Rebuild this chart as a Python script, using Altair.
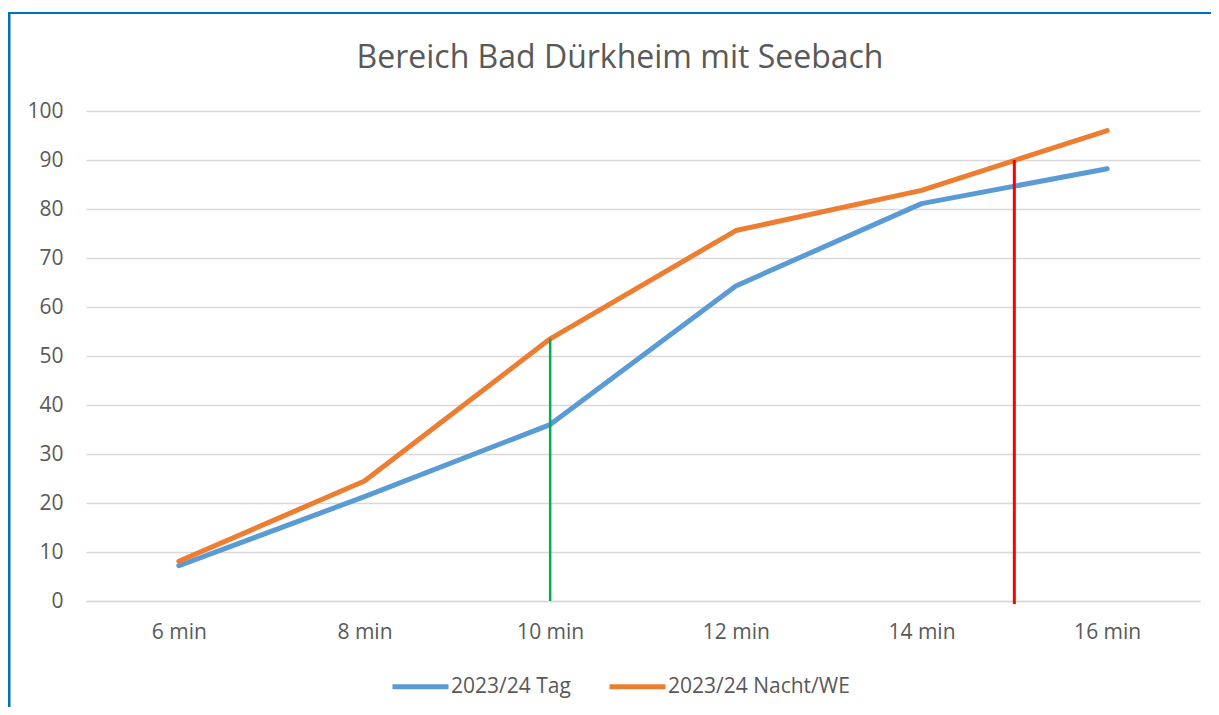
import altair as alt
import pandas as pd

categories = [6, 8, 10, 12, 14, 16]
tag = [7.2, 21.3, 36.0, 64.3, 81.1, 88.2]
nacht = [8.1, 24.5, 53.5, 75.6, 83.8, 96.0]
series_names = ["2023/24 Tag", "2023/24 Nacht/WE"]
y_ticks = [0, 10, 20, 30, 40, 50, 60, 70, 80, 90, 100]

green_x, green_top = 10, 53.5
red_x, red_bottom, red_top = 15, -0.6, 90

rows = []
for c, v in zip(categories, tag):
    rows.append({"min": c, "value": v, "series": series_names[0]})
for c, v in zip(categories, nacht):
    rows.append({"min": c, "value": v, "series": series_names[1]})
df = pd.DataFrame(rows)

FONT = "Open Sans"
TXT = "#595959"

x_enc = alt.X("min:Q", scale=alt.Scale(domain=[5, 17], nice=False, zero=False),
              axis=alt.Axis(values=categories, labelExpr="datum.value + ' min'", title=None,
                            grid=False, ticks=False, domain=True, domainColor="#D9D9D9",
                            domainWidth=1.5, labelPadding=20, labelFontSize=21,
                            labelColor=TXT, labelFont=FONT))
y_scale = alt.Scale(domain=[0, 100], nice=False)
y_axis = alt.Axis(values=y_ticks, title=None, grid=True, gridColor="#D9D9D9", gridWidth=1.5,
                  ticks=False, domain=False, labelPadding=23, labelFontSize=21,
                  labelColor=TXT, labelFont=FONT)

lines = alt.Chart(df).mark_line(strokeWidth=5, strokeCap="round", strokeJoin="round").encode(
    x=x_enc,
    y=alt.Y("value:Q", scale=y_scale, axis=y_axis),
    color=alt.Color("series:N", sort=series_names,
                    scale=alt.Scale(domain=series_names, range=["#5B9BD5", "#ED7D31"]),
                    legend=alt.Legend(title=None, orient="none", direction="horizontal",
                                      legendX=304, legendY=545, symbolType="stroke",
                                      symbolSize=3136, symbolStrokeWidth=5,
                                      labelFontSize=21, labelFont=FONT, labelColor=TXT,
                                      labelLimit=400, labelOffset=0, columnPadding=28,
                                      padding=0)),
)

green = alt.Chart(pd.DataFrame({"x": [green_x], "y0": [0], "y1": [green_top]})).mark_rule(
    color="#00B050", strokeWidth=2.5).encode(x="x:Q", y="y0:Q", y2="y1:Q")
red = alt.Chart(pd.DataFrame({"x": [red_x], "y0": [red_bottom], "y1": [red_top]})).mark_rule(
    color="#FF0000", strokeWidth=3).encode(x="x:Q", y="y0:Q", y2="y1:Q")

frame_left = alt.Chart(pd.DataFrame({"a": [0]})).mark_rule(color="#0070C0", strokeWidth=3).encode(
    x=alt.value(-77), y=alt.value(-98), y2=alt.value(610))
frame_top = alt.Chart(pd.DataFrame({"a": [0]})).mark_rule(color="#0070C0", strokeWidth=2).encode(
    x=alt.value(-78.5), x2=alt.value(1140), y=alt.value(-98))

chart = alt.layer(lines, green, red, frame_left, frame_top).properties(
    width=1114, height=490,
    title=alt.Title("Bereich Bad Dürkheim mit Seebach", fontSize=32, font=FONT, color=TXT,
                    fontWeight="normal", anchor="middle", dx=-23, offset=-63),
    autosize=alt.AutoSizeParams(type="none"),
    padding={"left": 78, "top": 103, "right": 11, "bottom": 106},
).configure(background="white").configure_view(stroke=None)

chart.save("out.html", embed_options={"renderer": "svg", "actions": False})
